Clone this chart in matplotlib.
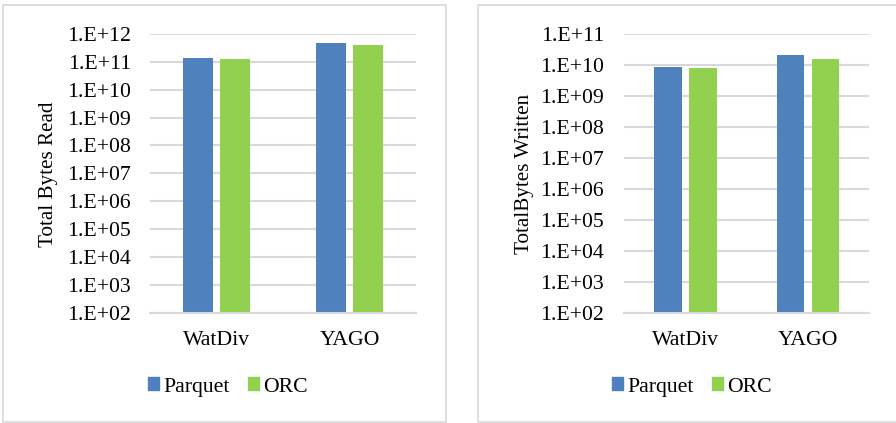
import matplotlib
matplotlib.use("Agg")
import matplotlib.pyplot as plt
from matplotlib.patches import Rectangle, Patch

categories = ["WatDiv", "YAGO"]
series = ["Parquet", "ORC"]
read_parquet = [1.35e11, 4.8e11]
read_orc = [1.28e11, 4.0e11]
written_parquet = [8.6e9, 2.1e10]
written_orc = [8.0e9, 1.56e10]
read_ticks = [1e2, 1e3, 1e4, 1e5, 1e6, 1e7, 1e8, 1e9, 1e10, 1e11, 1e12]
read_ticklabels = ["1.E+02", "1.E+03", "1.E+04", "1.E+05", "1.E+06", "1.E+07",
                   "1.E+08", "1.E+09", "1.E+10", "1.E+11", "1.E+12"]
written_ticks = read_ticks[:-1]
written_ticklabels = read_ticklabels[:-1]

BLUE = "#4f81bd"
GREEN = "#92d050"
GRID = "#d9d9d9"
FONT = "Liberation Serif"
plt.rcParams["font.family"] = FONT
FS = 15.7

W, H = 896, 423
fig = plt.figure(figsize=(W / 100, H / 100), dpi=100)

# chart borders
fig.patches.append(Rectangle((2.5 / W, 1 - 421.5 / H), 443 / W, 416 / H,
                             transform=fig.transFigure, fill=False,
                             edgecolor=GRID, linewidth=1.2))
fig.patches.append(Rectangle((477.5 / W, 1 - 421.5 / H), 430 / W, 416 / H,
                             transform=fig.transFigure, fill=False,
                             edgecolor=GRID, linewidth=1.2, clip_on=False))


def make_axes(x0, x1, y_top, y_bot, p_vals, o_vals, ticks, labels, ylim, ylabel, ylabel_x, legend_cx, pad):
    ax = fig.add_axes([x0 / W, 1 - y_bot / H, (x1 - x0) / W, (y_bot - y_top) / H])
    ax.set_yscale("log")
    ax.set_ylim(*ylim)
    ax.set_xlim(-0.5, 1.5)
    bw = 0.224
    gap = 0.06
    xs = range(len(categories))
    ax.bar([x - (bw + gap) / 2 for x in xs], p_vals, width=bw, color=BLUE,
           bottom=ylim[0], zorder=3)
    ax.bar([x + (bw + gap) / 2 for x in xs], o_vals, width=bw, color=GREEN,
           bottom=ylim[0], zorder=3)
    ax.set_yticks(ticks)
    ax.set_yticklabels(labels)
    ax.yaxis.set_minor_locator(matplotlib.ticker.NullLocator())
    ax.set_xticks(list(xs))
    ax.set_xticklabels(categories)
    ax.tick_params(axis="y", length=0, pad=pad, labelsize=FS)
    ax.tick_params(axis="x", length=0, pad=13, labelsize=FS)
    ax.grid(axis="y", color=GRID, linewidth=1.5, zorder=0)
    for s in ["top", "right", "left"]:
        ax.spines[s].set_visible(False)
    ax.spines["bottom"].set_color(GRID)
    ax.spines["bottom"].set_linewidth(1.5)
    ax.spines["bottom"].set_zorder(4)
    fig.text(ylabel_x / W, 1 - 174 / H, ylabel, rotation=90, ha="center",
             va="center", fontsize=15.2)
    handles = [Patch(color=BLUE, label=series[0]), Patch(color=GREEN, label=series[1])]
    fig.legend(handles=handles, loc="center", bbox_to_anchor=(legend_cx / W, 1 - 387 / H),
               ncol=2, frameon=False, fontsize=FS, handlelength=0.52,
               handleheight=0.52, handletextpad=0.2, columnspacing=0.8,
               borderpad=0, borderaxespad=0)
    return ax


make_axes(150, 416, 34, 312.7, read_parquet, read_orc, read_ticks, read_ticklabels,
          (1e2, 1e12), "Total Bytes Read", 49, 228, 13.7)
make_axes(624.3, 869.3, 34, 312.7, written_parquet, written_orc, written_ticks,
          written_ticklabels, (1e2, 1e11), "TotalBytes Written", 524, 692, 14.5)

fig.savefig("out.png", dpi=100)
